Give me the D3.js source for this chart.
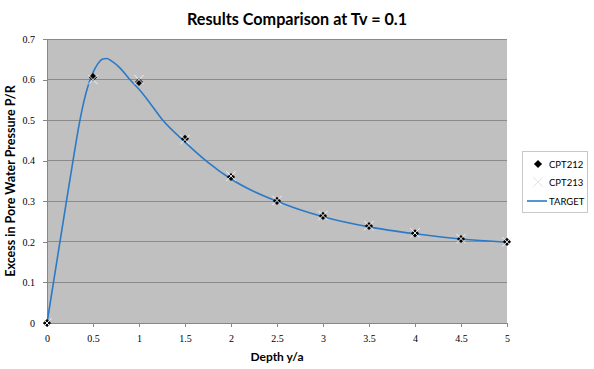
<!DOCTYPE html>
<html><head><meta charset="utf-8">
<script src="https://cdn.jsdelivr.net/npm/d3@7"></script>
<style>body{margin:0;background:#fff}svg{display:block}</style>
</head><body>
<svg id="c" width="594" height="369"></svg>
<script>
const depths = [0, 0.5, 1, 1.5, 2, 2.5, 3, 3.5, 4, 4.5, 5];
const cpt212 = [0, 0.606, 0.594, 0.454, 0.36, 0.301, 0.264, 0.239, 0.221, 0.207, 0.2];
const cpt213 = [0, 0.6, 0.6, 0.452, 0.362, 0.302, 0.265, 0.24, 0.222, 0.208, 0.2];
const targetX = [0, 0.1, 0.2, 0.3, 0.35, 0.4, 0.45, 0.5, 0.55, 0.6, 0.65, 0.7, 0.8, 0.9, 1.0, 1.1, 1.25, 1.5, 1.75, 2, 2.25, 2.5, 2.75, 3, 3.5, 4, 4.5, 5];
const targetY = [0, 0.142, 0.284, 0.424, 0.49, 0.545, 0.587, 0.617, 0.638, 0.65, 0.652, 0.646, 0.627, 0.6, 0.576, 0.548, 0.502, 0.446, 0.396, 0.355, 0.324, 0.3, 0.279, 0.262, 0.237, 0.22, 0.207, 0.199];
const xTicks = [0, 0.5, 1, 1.5, 2, 2.5, 3, 3.5, 4, 4.5, 5];
const yTicks = [0, 0.1, 0.2, 0.3, 0.4, 0.5, 0.6, 0.7];
const seriesNames = ["CPT212", "CPT213", "TARGET"];
const titleText = "Results Comparison at Tv = 0.1";
const xLabel = "Depth y/a";
const yLabel = "Excess in Pore Water Pressure P/R";

const svg = d3.select("#c");
const L = 47, R = 507, T = 39, B = 323;
const x = d3.scaleLinear().domain([0, 5]).range([L, R]);
const y = d3.scaleLinear().domain([0, 0.7]).range([B, T]);

svg.append("rect").attr("x", L).attr("y", T).attr("width", R - L).attr("height", B - T).attr("fill", "#c0c0c0");

// gridlines
svg.append("g").selectAll("line").data(yTicks.filter(d => d > 0)).join("line")
  .attr("x1", L).attr("x2", R).attr("y1", d => y(d)).attr("y2", d => y(d))
  .attr("stroke", "#8a8a8a").attr("stroke-width", 1).attr("shape-rendering", "crispEdges");

const fmt = d => String(d);
const xa = svg.append("g").attr("transform", `translate(0,${B})`)
  .call(d3.axisBottom(x).tickValues(xTicks).tickFormat(fmt).tickSize(4).tickPadding(8));
const ya = svg.append("g").attr("transform", `translate(${L},0)`)
  .call(d3.axisLeft(y).tickValues(yTicks).tickFormat(fmt).tickSize(4).tickPadding(8));
[xa, ya].forEach(g => {
  g.select(".domain").attr("stroke", "#888").attr("shape-rendering", "crispEdges");
  g.selectAll(".tick line").attr("stroke", "#888").attr("shape-rendering", "crispEdges");
  g.selectAll("text").attr("font-family", "Liberation Serif, serif").attr("font-size", 10).attr("fill", "#000");
});

// target line
const tgt = targetX.map((d, i) => [d, targetY[i]]);
svg.append("path").datum(tgt)
  .attr("d", d3.line().x(d => x(d[0])).y(d => y(d[1])).curve(d3.curveMonotoneX))
  .attr("fill", "none").attr("stroke", "#2a7ac8").attr("stroke-width", 1.6);

// CPT212 diamonds
const diamond = d3.symbol().type(d3.symbolDiamond2).size(42);
svg.append("g").selectAll("path").data(depths).join("path")
  .attr("transform", (d, i) => `translate(${x(d)},${y(cpt212[i])})`)
  .attr("d", diamond()).attr("fill", "#000");

// CPT213 crosses
const cross = d3.symbol().type(d3.symbolX).size(60);
svg.append("g").selectAll("path").data(depths).join("path")
  .attr("transform", (d, i) => `translate(${x(d)},${y(cpt213[i])})`)
  .attr("d", cross()).attr("fill", "none").attr("stroke", "#f2f2f2").attr("stroke-width", 1);

// title
svg.append("text").attr("x", 297).attr("y", 25).attr("text-anchor", "middle")
  .attr("font-family", "Lato, 'Open Sans', sans-serif").attr("font-weight", "bold").attr("font-size", 16.2)
  .text(titleText);
svg.append("text").attr("x", (L + R) / 2).attr("y", 361).attr("text-anchor", "middle")
  .attr("font-family", "Lato, sans-serif").attr("font-weight", "bold").attr("font-size", 12)
  .text(xLabel);
svg.append("text").attr("transform", `translate(15,${(T + B) / 2}) rotate(-90)`).attr("text-anchor", "middle")
  .attr("font-family", "Lato, sans-serif").attr("font-weight", "bold").attr("font-size", 12.5)
  .text(yLabel);

// legend
const lg = svg.append("g");
lg.append("rect").attr("x", 522.5).attr("y", 151.5).attr("width", 65).attr("height", 61)
  .attr("fill", "#fff").attr("stroke", "#c8c8c8");
const ly = [164, 182, 201];
lg.append("path").attr("transform", `translate(538,${ly[0]})`).attr("d", diamond()).attr("fill", "#000");
lg.append("path").attr("transform", `translate(538,${ly[1]})`).attr("d", cross()).attr("fill", "none").attr("stroke", "#e4e4e4");
lg.append("line").attr("x1", 527).attr("x2", 547).attr("y1", ly[2]).attr("y2", ly[2]).attr("stroke", "#2a7ac8").attr("stroke-width", 1.6);
lg.selectAll("text.l").data(seriesNames).join("text").attr("class", "l")
  .attr("x", 549).attr("y", (d, i) => ly[i] + 3.5)
  .attr("font-family", "Lato, sans-serif").attr("font-size", 9.5).text(d => d);
</script>
</body></html>
